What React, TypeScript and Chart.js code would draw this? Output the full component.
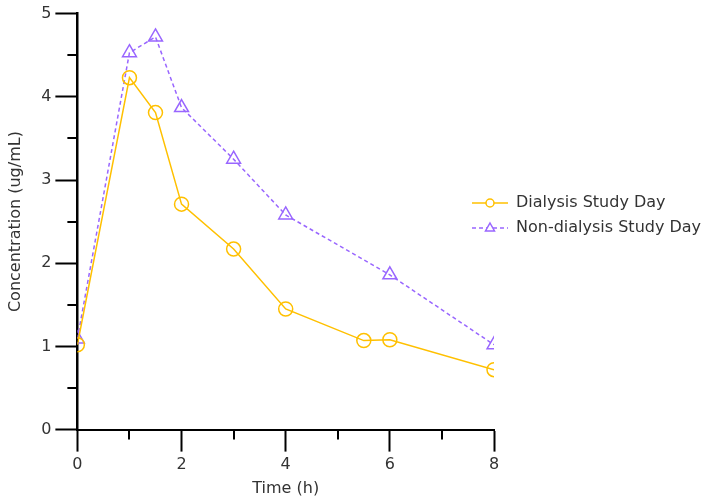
import React, { useEffect, useRef } from "react";
import { Chart, registerables } from "chart.js";

Chart.register(...registerables);

const dialysisTimes = [0, 1, 1.5, 2, 3, 4, 5.5, 6, 8];
const dialysisConc = [1.02, 4.23, 3.81, 2.71, 2.17, 1.45, 1.07, 1.08, 0.72];
const nonDialysisTimes = [0, 1, 1.5, 2, 3, 4, 6, 8];
const nonDialysisConc = [1.09, 4.53, 4.72, 3.87, 3.25, 2.58, 1.86, 1.02];
const seriesLabels = ["Dialysis Study Day", "Non-dialysis Study Day"];
const xTitle = "Time (h)";
const yTitle = "Concentration (ug/mL)";

const YELLOW = "rgb(255,192,0)";
const PURPLE = "rgb(153,102,255)";
const FONT = "DejaVu Sans";
const FS = 16;

const minorTicks = {
  id: "minorTicks",
  afterDraw(chart: any) {
    const ctx = chart.ctx;
    const xs = chart.scales.x;
    const ys = chart.scales.y;
    ctx.save();
    ctx.strokeStyle = "#000";
    ctx.lineWidth = 2;
    for (let v = 1; v < 8; v += 2) {
      const px = Math.round(xs.getPixelForValue(v));
      ctx.beginPath();
      ctx.moveTo(px, ys.bottom);
      ctx.lineTo(px, ys.bottom + 10);
      ctx.stroke();
    }
    for (let v = 0.5; v < 5; v += 1) {
      const py = Math.round(ys.getPixelForValue(v));
      ctx.beginPath();
      ctx.moveTo(xs.left, py);
      ctx.lineTo(xs.left - 10, py);
      ctx.stroke();
    }
    // legend
    const items = [
      { label: seriesLabels[0], color: YELLOW, dash: [], style: "circle" },
      { label: seriesLabels[1], color: PURPLE, dash: [4, 3], style: "triangle" },
    ];
    const x0 = 472;
    const x1 = 508;
    const tx = 516;
    const rows = [203, 228];
    ctx.font = `${FS}px "${FONT}"`;
    ctx.textBaseline = "middle";
    items.forEach((it, i) => {
      const y = rows[i];
      ctx.strokeStyle = it.color;
      ctx.lineWidth = 1.5;
      ctx.setLineDash(it.dash);
      ctx.beginPath();
      ctx.moveTo(x0, y);
      ctx.lineTo(x1, y);
      ctx.stroke();
      ctx.setLineDash([]);
      const cx = (x0 + x1) / 2;
      ctx.beginPath();
      if (it.style === "circle") {
        ctx.arc(cx, y, 4, 0, Math.PI * 2);
      } else {
        ctx.moveTo(cx, y - 5);
        ctx.lineTo(cx + 4.5, y + 3);
        ctx.lineTo(cx - 4.5, y + 3);
        ctx.closePath();
      }
      ctx.fillStyle = "#fff";
      ctx.fill();
      ctx.stroke();
      ctx.fillStyle = "#333";
      ctx.fillText(it.label, tx, y);
    });
    ctx.restore();
  },
};

export default function App() {
  const ref = useRef<HTMLCanvasElement | null>(null);
  useEffect(() => {
    if (!ref.current) return;
    const chart = new Chart(ref.current, {
      type: "line",
      data: {
        datasets: [
          {
            label: seriesLabels[0],
            data: dialysisTimes.map((t, i) => ({ x: t, y: dialysisConc[i] })),
            borderColor: YELLOW,
            backgroundColor: "rgba(255,255,255,0)",
            borderWidth: 1.5,
            pointStyle: "circle",
            pointRadius: 7,
            pointBorderWidth: 1.5,
            pointBorderColor: YELLOW,
            pointBackgroundColor: "rgba(255,255,255,0)",
            tension: 0,
          },
          {
            label: seriesLabels[1],
            data: nonDialysisTimes.map((t, i) => ({ x: t, y: nonDialysisConc[i] })),
            borderColor: PURPLE,
            backgroundColor: "rgba(255,255,255,0)",
            borderWidth: 1.5,
            borderDash: [4, 3],
            pointStyle: "triangle",
            pointRadius: 8,
            pointBorderWidth: 1.5,
            pointBorderColor: PURPLE,
            pointBackgroundColor: "rgba(255,255,255,0)",
            tension: 0,
          },
        ],
      },
      options: {
        animation: false,
        responsive: true,
        maintainAspectRatio: false,
        layout: { padding: { left: 6, right: 214, top: 0, bottom: 3 } },
        plugins: {
          legend: { display: false },
          tooltip: { enabled: false },
        },
        scales: {
          x: {
            type: "linear",
            min: 0,
            max: 8,
            ticks: {
              stepSize: 2,
              padding: 4,
              color: "#333",
              font: { family: FONT, size: FS },
            },
            grid: {
              drawOnChartArea: false,
              drawTicks: true,
              tickLength: 22,
              tickColor: "#000",
              tickWidth: 2,
            },
            border: { display: true, color: "#000", width: 2 },
            title: {
              display: true,
              text: xTitle,
              color: "#333",
              font: { family: FONT, size: FS },
              padding: { top: 0, bottom: 0 },
            },
          },
          y: {
            min: 0,
            max: 5,
            ticks: {
              stepSize: 1,
              padding: 4,
              color: "#333",
              font: { family: FONT, size: FS },
            },
            grid: {
              drawOnChartArea: false,
              drawTicks: true,
              tickLength: 22,
              tickColor: "#000",
              tickWidth: 2,
            },
            border: { display: true, color: "#000", width: 2.5 },
            title: {
              display: true,
              text: yTitle,
              color: "#333",
              font: { family: FONT, size: FS },
              padding: { top: 0, bottom: 12 },
            },
          },
        },
      },
      plugins: [minorTicks],
    });
    return () => chart.destroy();
  }, []);
  return (
    <div style={{ position: "fixed", left: 0, top: 0, width: 708, height: 501, background: "#fff" }}>
      <canvas ref={ref} />
    </div>
  );
}
